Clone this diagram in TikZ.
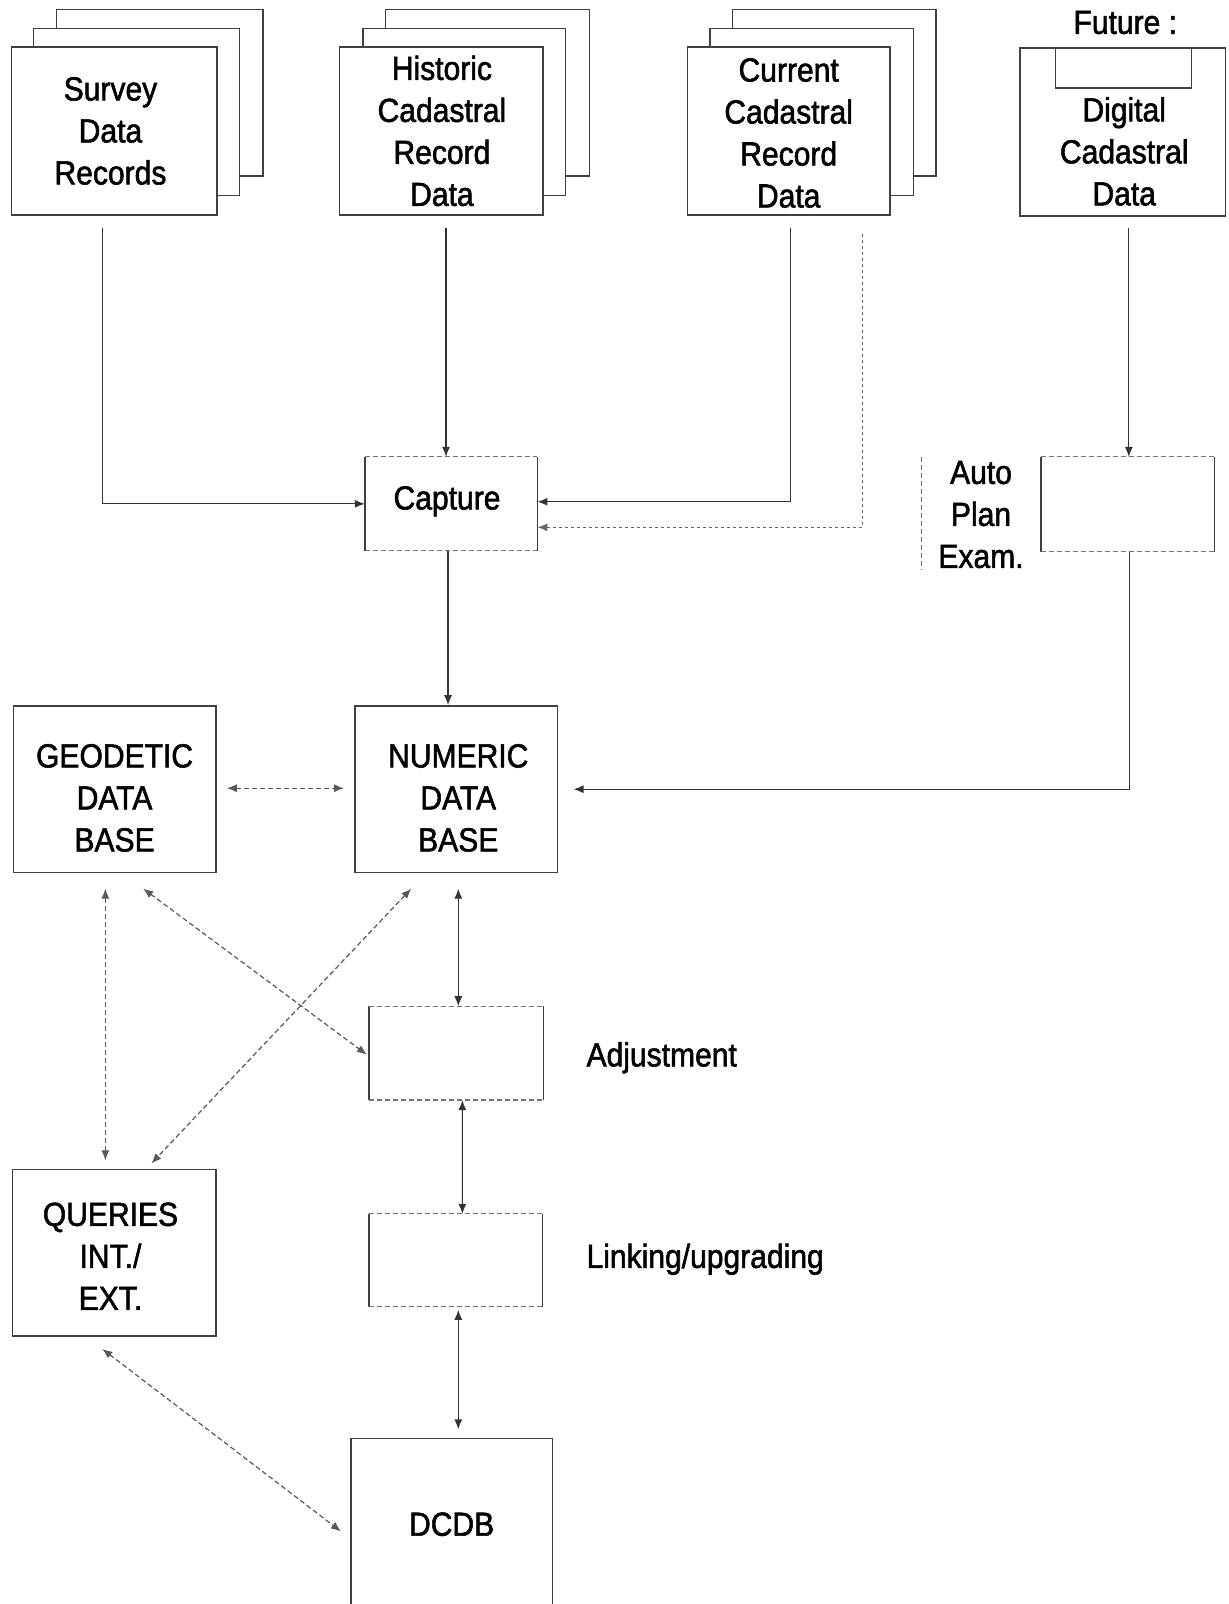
\documentclass[tikz,border=0pt]{standalone}
\usepackage{fontspec}
\setmainfont{Liberation Sans}[FakeStretch=0.9,FakeBold=1.6]
\usetikzlibrary{arrows.meta,calc,fit}
\newcommand\dglabel{\fontsize{16.7}{21}\selectfont}
\begin{document}
\begin{tikzpicture}[x=0.51165pt,y=-0.51165pt,
  box/.style={draw=black!75, line width=0.7pt, inner sep=0pt, fill=white},
  openbox/.style={inner sep=0pt},
  txt/.style={inner sep=0pt, align=center, font=\dglabel},
  side/.style={draw=black!75, line width=0.7pt},
  dside/.style={draw=black!55, line width=0.6pt, dash pattern=on 2.5pt off 1.5pt},
  tip/.tip={Latex[length=5pt,width=4pt]},
  arr/.style={-tip, line width=0.6pt, draw=black!80},
  darr/.style={tip-tip, line width=0.6pt, draw=black!80},
  ddarr/.style={tip-tip, line width=0.6pt, draw=black!65, dash pattern=on 2.5pt off 1.5pt},
  darrone/.style={-tip, line width=0.6pt, draw=black!60, dash pattern=on 1.5pt off 1.5pt}]
\useasboundingbox[fill=white] (0,0) rectangle (1201,1568);

% stacked record boxes
\node[box, fit={(55,9) (257,172)}] (sv3) {};
\node[box, fit={(33,28) (234,191)}] (sv2) {};
\node[box, fit={(11,46) (212,210)}] (sv) {};
\node[txt] (svt) at (108,128) {Survey\\Data\\Records};

\node[box, fit={(377,9) (576,172)}] (hi3) {};
\node[box, fit={(355,28) (553,191)}] (hi2) {};
\node[box, fit={(332,46) (531,210)}] (hi) {};
\node[txt] (hit) at (432,128) {Historic\\Cadastral\\Record\\Data};

\node[box, fit={(716,9) (915,172)}] (cu3) {};
\node[box, fit={(694,28) (893,191)}] (cu2) {};
\node[box, fit={(672,46) (870,210)}] (cu) {};
\node[txt] (cut) at (771,130) {Current\\Cadastral\\Record\\Data};

\node[box, fit={(997,47) (1198,211)}] (dig) {};
\node[box, fit={(1032,47) (1165,86)}] (tab) {};
\node[txt] (digt) at (1099,148) {Digital\\Cadastral\\Data};
\node[txt] (fut) at (1100,22) {Future :};

% capture and auto plan exam
\node[openbox, fit={(357,447) (525,538)}] (cap) {};
\node[txt] (capt) at (437,490) {Capture};
\draw[side] (cap.north west) -- (cap.south west);
\draw[side] (cap.north east) -- (cap.south east);
\draw[dside] (cap.north west) -- (cap.north east);
\draw[dside] (cap.south west) -- (cap.south east);

\node[openbox, fit={(1018,447) (1187,539)}] (auto) {};
\draw[side] (auto.north west) -- (auto.south west);
\draw[side] (auto.north east) -- (auto.south east);
\draw[dside] (auto.north west) -- (auto.north east);
\draw[dside] (auto.south west) -- (auto.south east);
\node[txt] (autot) at (959,503) {Auto\\Plan\\Exam.};
\coordinate (vl1) at (901,447);
\coordinate (vl2) at (901,557);
\draw[dside] (vl1) -- (vl2);

% databases
\node[box, fit={(13,690) (211,853)}] (geo) {};
\node[txt] (geot) at (112,780) {GEODETIC\\DATA\\BASE};
\node[box, fit={(347,690) (545,853)}] (num) {};
\node[txt] (numt) at (448,780) {NUMERIC\\DATA\\BASE};

% adjustment / linking
\node[openbox, fit={(361,984) (531,1075)}] (adj) {};
\draw[side] (adj.north west) -- (adj.south west);
\draw[side] (adj.north east) -- (adj.south east);
\draw[dside] (adj.north west) -- (adj.north east);
\draw[dside] (adj.south west) -- (adj.south east);
\node[txt, anchor=west] (adjt) at (573,1034) {Adjustment};

\node[openbox, fit={(361,1187) (530,1277)}] (lnk) {};
\draw[side] (lnk.north west) -- (lnk.south west);
\draw[side] (lnk.north east) -- (lnk.south east);
\draw[dside] (lnk.north west) -- (lnk.north east);
\draw[dside] (lnk.south west) -- (lnk.south east);
\node[txt, anchor=west] (lnkt) at (573,1231) {Linking/upgrading};

\node[box, fit={(12,1143) (211,1306)}] (qry) {};
\node[txt] (qryt) at (108,1228) {QUERIES\\INT./\\EXT.};
\node[box, fit={(343,1406) (540,1590)}] (dcdb) {};
\node[txt] (dcdbt) at (441.5,1490) {DCDB};

% connectors
\draw[arr] ($(sv.south)+(-11.5,12)$) |- (cap.west);
\draw[arr] ($(hi.south)+(4.5,12)$) coordinate (h1) -- (h1 |- cap.north);
\draw[arr] ($(cu.south)+(2,12)$) |- ($(cap.east)+(0,-2)$);
\draw[darrone] ($(cu.south)+(72,18)$) |- ($(cap.east)+(0,23)$);
\draw[arr] ($(dig.south)+(6,11)$) coordinate (d1) -- (d1 |- auto.north);
\draw[arr] ($(auto.south)+(1.5,0)$) |- ($(num.east)+(15,0)$);
\draw[arr] ($(cap.south)+(-3,0)$) coordinate (c1) -- (c1 |- num.north);

\draw[ddarr] ($(geo.east)+(10,-1)$) -- ($(num.west)+(-10,-1)$);
\draw[darr] ($(num.south)+(2,15)$) -- ($(adj.north)+(2,0)$);
\draw[darr] ($(adj.south)+(6,0)$) -- ($(lnk.north)+(6.5,0)$);
\draw[darr] ($(lnk.south)+(2.5,3)$) -- ($(dcdb.north)+(6.5,-8)$);

\draw[ddarr] ($(geo.south)+(-9,15)$) -- ($(qry.north)+(-8.5,-8)$);
\draw[ddarr] ($(geo.south)+(28,15)$) -- ($(adj.west)+(-2,1.5)$);
\draw[ddarr] ($(num.south)+(-44,15)$) -- ($(qry.north)+(36.5,-5)$);
\draw[ddarr] ($(qry.south)+(-11.5,12)$) -- ($(dcdb.west)+(-9,-1)$);
\end{tikzpicture}
\end{document}
